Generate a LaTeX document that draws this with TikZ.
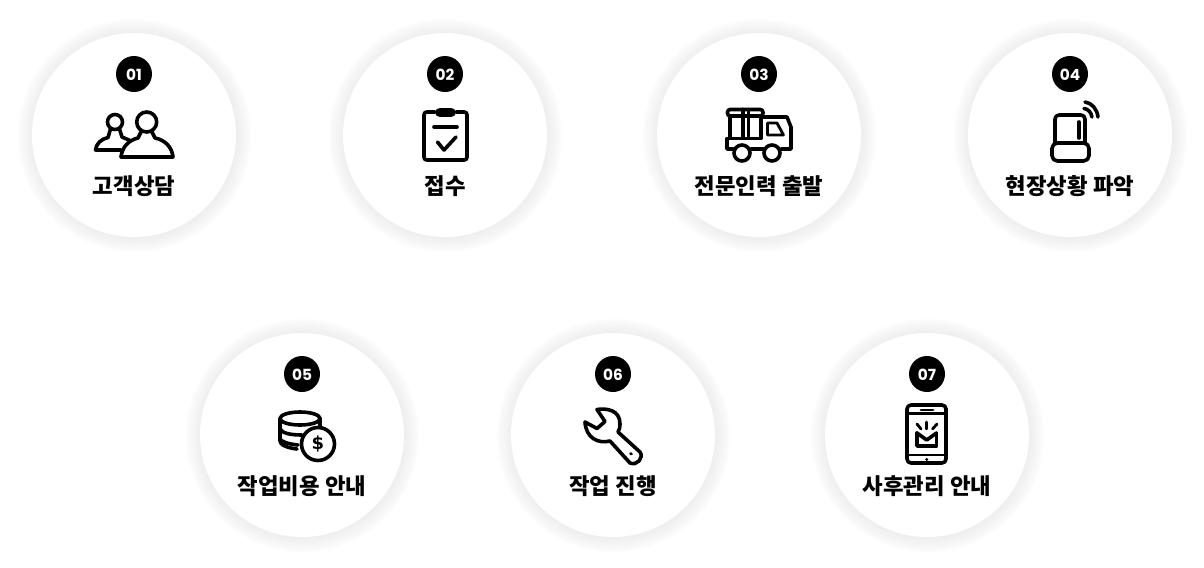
\documentclass[tikz,border=0pt]{standalone}
\usepackage{fontspec}
\usepackage{tikz}
\usetikzlibrary{positioning}
\newfontfamily\krfont{Noto Sans CJK KR}
\newfontfamily\numfont{Poppins}
\newfontfamily\signfont{DejaVu Sans}
\definecolor{haloin}{HTML}{EFEFEF}
\definecolor{haloout}{HTML}{FAFAFA}
\pgfdeclareradialshading{haloshade}{\pgfpointorigin}{
    color(0bp)=(haloin);
    color(21bp)=(haloin);
    color(21.4bp)=(haloin);
    color(23.9bp)=(haloout);
    color(24.4bp)=(white);
    color(25bp)=(white);
    color(50bp)=(white)}
\tikzset{
    halo/.style={circle,minimum size=180pt,inner sep=0pt,shading=haloshade},
    disc/.style={circle,fill=white,minimum size=153pt,inner sep=0pt},
    badge/.style={circle,fill=black,text=white,minimum size=27pt,inner sep=0pt,text height=9pt,text depth=0pt,font=\numfont\bfseries\fontsize{11.5}{12}\selectfont},
    caption/.style={font=\krfont\bfseries\fontsize{16.75}{18}\selectfont,inner sep=0pt},
    glyph/.style={line width=2.7pt,line join=round,line cap=round},
    thin glyph/.style={line width=2.1pt,line join=round,line cap=round}
}
\begin{document}
\begin{tikzpicture}[x=0.75pt,y=-0.75pt]
    \useasboundingbox (0,0) rectangle (1204,568);
    \node[halo] (halo1) at (134,135) {};
    \node[halo] (halo2) at (445,135) {};
    \node[halo] (halo3) at (759,135) {};
    \node[halo] (halo4) at (1070,135) {};
    \node[halo] (halo5) at (302,435) {};
    \node[halo] (halo6) at (613,435) {};
    \node[halo] (halo7) at (927,435) {};
    \node[disc] (disc1) at (halo1) {};
    \node[disc] (disc2) at (halo2) {};
    \node[disc] (disc3) at (halo3) {};
    \node[disc] (disc4) at (halo4) {};
    \node[disc] (disc5) at (halo5) {};
    \node[disc] (disc6) at (halo6) {};
    \node[disc] (disc7) at (halo7) {};
    \node[badge] (num1) at ([shift={+(0,-61)}]disc1) {01};
    \node[badge] (num2) at ([shift={+(0,-61)}]disc2) {02};
    \node[badge] (num3) at ([shift={+(0,-61)}]disc3) {03};
    \node[badge] (num4) at ([shift={+(0,-61)}]disc4) {04};
    \node[badge] (num5) at ([shift={+(0,-61)}]disc5) {05};
    \node[badge] (num6) at ([shift={+(0,-61)}]disc6) {06};
    \node[badge] (num7) at ([shift={+(0,-61)}]disc7) {07};
    \node[caption] (title1) at ([shift={+(0,50.7)}]disc1) {고객상담};
    \node[caption] (title2) at ([shift={+(0,50.7)}]disc2) {접수};
    \node[caption] (title3) at ([shift={+(0,50.7)}]disc3) {전문인력 출발};
    \node[caption] (title4) at ([shift={+(0,50.7)}]disc4) {현장상황 파악};
    \node[caption] (title5) at ([shift={+(0,50.7)}]disc5) {작업비용 안내};
    \node[caption] (title6) at ([shift={+(0,50.7)}]disc6) {작업 진행};
    \node[caption] (title7) at ([shift={+(0,50.7)}]disc7) {사후관리 안내};

    \draw[glyph] (115,122) circle[radius=7.5];
    \draw[glyph] (146.7,122) circle[radius=10];
    \draw[glyph] (121,150) -- (95.5,150) .. controls (96,144) and (101,139) .. (108,137.5) -- (110.5,129);
    \draw[glyph] (119.5,129) -- (122,137) -- (130,140.5);
    \draw[glyph] (121,157) -- (173,157) .. controls (172,147) and (165,140) .. (155,138) -- (151.5,131);
    \draw[glyph] (121,157) .. controls (122,147) and (129,140) .. (138,138) -- (141.5,131);

    \draw[glyph,rounded corners=2pt] (435,112) -- (424,112) -- (424,160) -- (467,160) -- (467,112) -- (456,112);
    \draw[glyph,fill=black,rounded corners=2pt] (437,110) rectangle (454,115);
    \draw[glyph] (434,127) -- (457,127);
    \draw[glyph] (437.5,142) -- (444,150) -- (456,137);

    \draw[glyph,rounded corners=2pt] (727.5,109.5) rectangle (763,116);
    \draw[glyph] (730,116) -- (730,138.5) -- (761,138.5) -- (761,116);
    \draw[glyph] (743,109.5) -- (743,138);
    \draw[glyph] (748.5,109.5) -- (748.5,138);
    \draw[glyph] (763,117) -- (787,117) -- (791,127) -- (791,149) -- (781,149);
    \draw[glyph,thin glyph] (767.5,123) -- (777,123) -- (783.5,135) -- (767.5,135) -- cycle;
    \draw[glyph] (730,138.5) -- (727,138.5) -- (727,149) -- (733,149);
    \draw[glyph] (751,149) -- (763,149);
    \draw[glyph] (742,153) circle[radius=8];
    \draw[glyph] (772,153) circle[radius=8];

    \draw[glyph,rounded corners=3pt] (1055,143) -- (1055,115) -- (1085,115) -- (1085,143);
    \draw[glyph,rounded corners=4pt] (1052,143) rectangle (1089,161);
    \draw[glyph] (1079,122) -- (1079,138);
    \draw[glyph] (1085,102) .. controls (1092,103) and (1097,109) .. (1098,117);
    \draw[glyph] (1084,108.5) .. controls (1088,109) and (1091,112) .. (1092,117);

    \draw[glyph] (300,418.5) ellipse[x radius=20,y radius=6.5];
    \draw[glyph] (280,418.5) -- (280,441) .. controls (280,445) and (288,448) .. (297,449);
    \draw[glyph] (320,418.5) -- (320,426);
    \draw[glyph] (280,429) .. controls (282,433) and (290,435) .. (302,435);
    \draw[glyph] (280,439) .. controls (282,442) and (288,444) .. (298,445);
    \draw[glyph,fill=white] (318,444) circle[radius=16.5];
    \node[font=\signfont\bfseries\fontsize{13.5}{14}\selectfont,inner sep=0pt] (dollar) at (318,444) {\$};

    \draw[glyph] (597,409.5) .. controls (607,408) and (620,410) .. (620,424) .. controls (620,428) and (619,430) .. (618,432) -- (640,452) .. controls (644,458) and (637,466) .. (630,463) -- (610,441) .. controls (598,444) and (586,438) .. (585,422) -- (597,428.5) -- (605,421.5) -- cycle;
    \draw[thin glyph] (630.5,453.5) -- (631.5,454);

    \draw[glyph,rounded corners=3pt] (907,405) rectangle (946,463);
    \draw[thin glyph] (907,413.5) -- (946,413.5);
    \draw[thin glyph] (907,455) -- (946,455);
    \draw[thin glyph] (921,410) -- (933,410);
    \draw[thin glyph] (926.5,459.5) -- (927,459.5);
    \draw[glyph] (917,433) -- (917,446) -- (936.5,446) -- (936.5,433);
    \draw[glyph] (917,433) -- (926.7,440) -- (936.5,433);
    \draw[thin glyph] (926.7,422) -- (926.7,429);
    \draw[thin glyph] (917,424) -- (921,429);
    \draw[thin glyph] (937,424) -- (932.5,429);
\end{tikzpicture}
\end{document}
